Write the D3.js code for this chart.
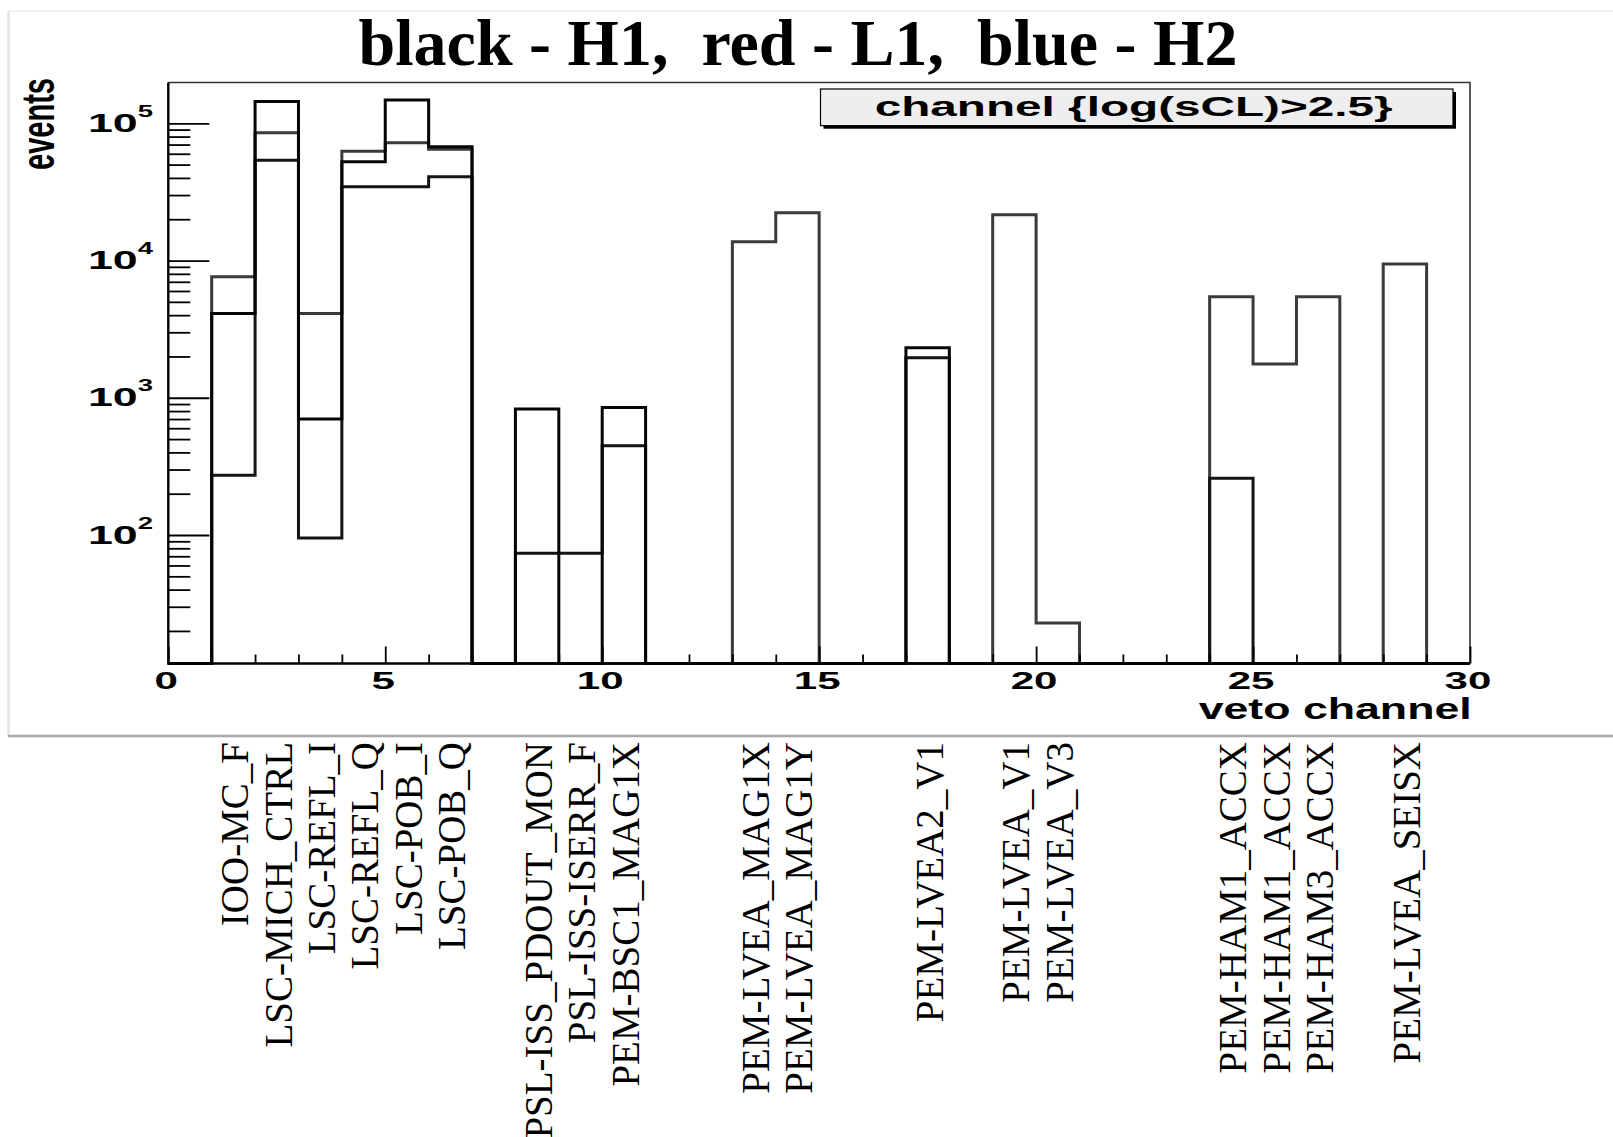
<!DOCTYPE html>
<html>
<head>
<meta charset="utf-8">
<script src="https://cdn.jsdelivr.net/npm/d3@7"></script>
<style>
  html, body { margin: 0; padding: 0; background: #fff; }
  svg { display: block; }
</style>
</head>
<body>
<svg id="chart" width="1613" height="1137"></svg>
<script>
// ---- data -------------------------------------------------------------
// veto channel bins 0..29 (unit width), events per bin for each interferometer
const eventsH1 = [0, 4120, 144000, 700, 52500, 148000, 67500, 0, 827, 0,
                  851, 0, 0, 0, 0, 0, 0, 2310, 0, 0,
                  0, 0, 0, 0, 0, 0, 0, 0, 0, 0];
const eventsL1 = [0, 7620, 85400, 4120, 62600, 72200, 64600, 0, 0, 0,
                  0, 0, 0, 13700, 22300, 0, 0, 0, 0, 21600,
                  22.8, 0, 0, 0, 5440, 1765, 5440, 0, 9440, 0];
const eventsH2 = [0, 273, 53700, 95, 34500, 34500, 40800, 0, 73.5, 73.5,
                  447, 0, 0, 0, 0, 0, 0, 1958, 0, 0,
                  0, 0, 0, 0, 259, 0, 0, 0, 0, 0];

const seriesNames = ["H1", "L1", "H2"];

// channel names written under their bins
const channelBins  = [1, 2, 3, 4, 5, 6, 8, 9, 10, 13, 14, 17, 19, 20, 24, 25, 26, 28];
const channelNames = ["IOO-MC_F", "LSC-MICH_CTRL", "LSC-REFL_I", "LSC-REFL_Q",
  "LSC-POB_I", "LSC-POB_Q", "PSL-ISS_PDOUT_MON", "PSL-ISS-ISERR_F",
  "PEM-BSC1_MAG1X", "PEM-LVEA_MAG1X", "PEM-LVEA_MAG1Y", "PEM-LVEA2_V1",
  "PEM-LVEA_V1", "PEM-LVEA_V3", "PEM-HAM1_ACCX", "PEM-HAM1_ACCX",
  "PEM-HAM3_ACCX", "PEM-LVEA_SEISX"];

const xMajorTicks = [0, 5, 10, 15, 20, 25, 30];
const yDecades = [2, 3, 4, 5];

const titleText = "black - H1,  red - L1,  blue - H2";
const legendText = "channel {log(sCL)>2.5}";
const xTitle = "veto channel";
const yTitle = "events";

// ---- layout -----------------------------------------------------------
const svg = d3.select("#chart");
const frame = { left: 168.3, right: 1470, top: 82.5, bottom: 663.5 };
const ROOT_FONT = "'Liberation Sans', Arial, Helvetica, sans-serif";
const SERIF = "'Liberation Serif', 'Times New Roman', serif";

const x = d3.scaleLinear().domain([0, 30]).range([frame.left, frame.right]);
const y = d3.scaleLog().domain([11.58, 1.983e5]).range([frame.bottom, frame.top]);

// canvas panel outline
svg.append("line").attr("x1", 8.5).attr("x2", 8.5).attr("y1", 11).attr("y2", 736)
  .attr("stroke", "#e2e2e2").attr("stroke-width", 2.5);
svg.append("line").attr("x1", 8).attr("x2", 1613).attr("y1", 11).attr("y2", 11)
  .attr("stroke", "#ececec").attr("stroke-width", 1.5);
svg.append("line").attr("x1", 8).attr("x2", 1613).attr("y1", 736).attr("y2", 736)
  .attr("stroke", "#a8a8a8").attr("stroke-width", 2.5);

// title
svg.append("text")
  .attr("x", 798).attr("y", 65)
  .attr("text-anchor", "middle")
  .style("white-space", "pre")
  .attr("font-family", SERIF).attr("font-weight", "bold").attr("font-size", 66)
  .text(titleText);

// frame (top / right edges)
svg.append("path")
  .attr("d", `M${frame.left},${frame.top}H${frame.right}V${frame.bottom}`)
  .attr("fill", "none").attr("stroke", "#333").attr("stroke-width", 1.6);

// ---- histograms -------------------------------------------------------
const seriesData = [eventsL1, eventsH2, eventsH1];
const seriesColors = { H1: "#050505", L1: "#3a3a3a", H2: "#141414" };
const seriesOrder = ["L1", "H2", "H1"];

const yClamp = v => (v > 0 ? y(v) : frame.bottom);
const stepLine = d3.line()
  .x(d => x(d.bin))
  .y(d => yClamp(d.v))
  .curve(d3.curveStepAfter);

seriesData.forEach((vals, k) => {
  const pts = vals.map((v, i) => ({ bin: i, v }));
  pts.push({ bin: vals.length, v: vals[vals.length - 1] });
  pts.unshift({ bin: 0, v: 0 });
  svg.append("path")
    .datum(pts)
    .attr("class", "hist hist-" + seriesOrder[k])
    .attr("d", stepLine)
    .attr("fill", "none")
    .attr("stroke", seriesColors[seriesOrder[k]])
    .attr("stroke-width", 3)
    .attr("stroke-linejoin", "miter");
});

// ---- axes -------------------------------------------------------------
const yMinor = y.ticks().filter(v => Math.abs(Math.log10(v) - Math.round(Math.log10(v))) > 1e-6);
const yMajor = yDecades.map(e => Math.pow(10, e));

const yAxisMinor = svg.append("g").attr("transform", `translate(${frame.left},0)`)
  .call(d3.axisRight(y).tickValues(yMinor).tickSize(22).tickFormat(""));
const yAxisMajor = svg.append("g").attr("transform", `translate(${frame.left},0)`)
  .call(d3.axisRight(y).tickValues(yMajor).tickSize(41).tickFormat(""));
[yAxisMinor, yAxisMajor].forEach(g => {
  g.select(".domain").remove();
  g.selectAll("line").attr("stroke", "#000").attr("stroke-width", 1.8);
});

const xMinor = x.ticks(30).filter(v => xMajorTicks.indexOf(v) < 0);
const xAxisMinor = svg.append("g").attr("transform", `translate(0,${frame.bottom})`)
  .call(d3.axisTop(x).tickValues(xMinor).tickSize(9).tickFormat(""));
const xAxisMajor = svg.append("g").attr("transform", `translate(0,${frame.bottom})`)
  .call(d3.axisTop(x).tickValues(xMajorTicks).tickSize(17).tickFormat(""));
[xAxisMinor, xAxisMajor].forEach(g => {
  g.select(".domain").remove();
  g.selectAll("line").attr("stroke", "#000").attr("stroke-width", 1.8);
});

// axis lines
svg.append("path")
  .attr("d", `M${frame.left},${frame.top}V${frame.bottom}H${frame.right}`)
  .attr("fill", "none").attr("stroke", "#000").attr("stroke-width", 2.4);

// y tick labels 10^n (wide bold glyphs)
yMajor.forEach((v, i) => {
  const g = svg.append("g")
    .attr("transform", `translate(153,${y(v) + 8.6}) scale(1.72,1)`);
  const t = g.append("text")
    .attr("text-anchor", "end")
    .attr("font-family", ROOT_FONT).attr("font-weight", "bold")
    .attr("font-size", 26);
  t.append("tspan").text("10");
  t.append("tspan").attr("dy", -15).attr("font-size", 16).text(String(yDecades[i]));
});

// x tick labels
xMajorTicks.forEach(v => {
  svg.append("g")
    .attr("transform", `translate(${x(v) - 2},689) scale(1.72,1)`)
    .append("text")
    .attr("text-anchor", "middle")
    .attr("font-family", ROOT_FONT).attr("font-weight", "bold")
    .attr("font-size", 24.5)
    .text(String(v));
});

// axis titles
svg.append("text")
  .attr("x", 1198.7).attr("y", 719)
  .attr("textLength", 273).attr("lengthAdjust", "spacingAndGlyphs")
  .attr("font-family", ROOT_FONT).attr("font-weight", "bold").attr("font-size", 29)
  .text(xTitle);

svg.append("g")
  .attr("transform", `translate(54,78) scale(1.6,1) rotate(-90)`)
  .append("text")
  .attr("text-anchor", "end")
  .attr("font-family", ROOT_FONT).attr("font-weight", "bold").attr("font-size", 29)
  .text(yTitle);

// ---- statistics / title box ---------------------------------------------
const box = { x0: 820.5, x1: 1453, y0: 89, y1: 125.7 };
svg.append("rect")
  .attr("x", box.x0 + 3).attr("y", box.y0 + 3)
  .attr("width", box.x1 - box.x0).attr("height", box.y1 - box.y0)
  .attr("fill", "#000");
svg.append("rect")
  .attr("x", box.x0).attr("y", box.y0)
  .attr("width", box.x1 - box.x0).attr("height", box.y1 - box.y0)
  .attr("fill", "#eeeeee").attr("stroke", "#000").attr("stroke-width", 1.2);
svg.append("text")
  .attr("x", 874.7).attr("y", 116)
  .attr("textLength", 518).attr("lengthAdjust", "spacingAndGlyphs")
  .attr("font-family", ROOT_FONT).attr("font-weight", "bold").attr("font-size", 27)
  .text(legendText);

// ---- channel names ------------------------------------------------------
svg.append("g").selectAll("text")
  .data(channelNames.map((name, i) => ({ name, bin: channelBins[i] })))
  .join("text")
  .attr("transform", d => `translate(${x(d.bin + 0.5) + 2},742) rotate(-90)`)
  .attr("dy", "0.33em")
  .attr("text-anchor", "end")
  .attr("font-family", SERIF).attr("font-size", 39)
  .attr("fill", "#000")
  .text(d => d.name);
</script>
</body>
</html>
